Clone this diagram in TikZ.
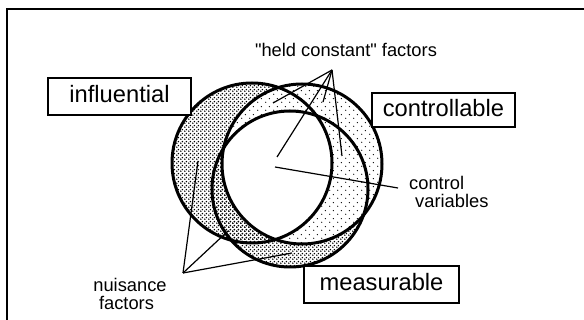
\documentclass[tikz,border=0pt]{standalone}
\usepackage{fontspec}
\setmainfont{Liberation Sans}[Ligatures=TeXOff]
\usetikzlibrary{patterns.meta}

\tikzdeclarepattern{
  name=densedots,
  type=uncolored,
  bottom left={(0pt,0pt)},
  top right={(4pt,4pt)},
  tile size={(4pt,4pt)},
  code={\fill (1pt,1pt) circle (0.95pt); \fill (3pt,3pt) circle (0.95pt);}
}
\tikzdeclarepattern{
  name=sparsedots,
  type=uncolored,
  bottom left={(0pt,0pt)},
  top right={(8pt,8pt)},
  tile size={(8pt,8pt)},
  code={\fill (2pt,2pt) circle (0.75pt); \fill (6pt,6pt) circle (0.75pt);}
}

\tikzset{
  circ/.style={line width=3pt},
  conn/.style={line width=1.2pt},
  frameline/.style={line width=1.4pt},
  lab/.style={inner sep=0pt, font=\fontsize{18.3}{18}\selectfont},
  labelbox/.style={draw, fill=white, line width=1.2pt, inner sep=0pt,
    text height=17pt, text depth=4pt, font=\fontsize{23.7}{24}\selectfont},
}

\begin{document}
\begin{tikzpicture}[x=1pt,y=-1pt]
\useasboundingbox (0,0) rectangle (584,320);

% frame
\draw[frameline] (7,320) -- (7,9) -- (584,9);

% circle centres
\coordinate (cI) at (252,163);
\coordinate (cC) at (302,164);
\coordinate (cM) at (290,189);

% shading
\path[pattern=densedots, pattern color=black] (cI) circle[radius=80pt];
\path[pattern=densedots, pattern color=black] (cM) circle[radius=78pt];
\fill[white] (cC) circle[radius=80pt];
\path[pattern=sparsedots, pattern color=black] (cC) circle[radius=80pt];
\begin{scope}
  \clip (cI) circle[radius=80pt];
  \clip (cM) circle[radius=78pt];
  \fill[white] (cC) circle[radius=80pt];
\end{scope}

% outlines
\draw[circ] (cI) circle[radius=80pt];
\draw[circ] (cC) circle[radius=80pt];
\draw[circ] (cM) circle[radius=78pt];

% boxes
\node[labelbox, minimum width=143pt, minimum height=37pt] (infl) at (119.5,96.5) {influential};
\node[labelbox, minimum width=143pt, minimum height=34pt] (contr) at (443.5,110) {controllable};
\node[labelbox, minimum width=155pt, minimum height=37pt] (meas) at (381.5,284.5) {measurable};

% held constant factors
\node[lab, anchor=base] (held) at (346,57) {"held constant" factors};
\coordinate (hA) at (332,70);
\coordinate (h1) at (273,103);
\coordinate (h2) at (277,157);
\coordinate (h3) at (323,102);
\coordinate (h4) at (342,156);
\draw[conn] (hA) -- (h1);
\draw[conn] (hA) -- (h2);
\draw[conn] (hA) -- (h3);
\draw[conn] (hA) -- (h4);

% control variables
\node[lab, anchor=base west] (ctrlA) at (409,190) {control};
\node[lab, anchor=base west] (ctrlB) at (415,208) {variables};
\coordinate (cvA) at (398,188);
\coordinate (cv1) at (275,167);
\draw[conn] (cvA) -- (cv1);

% nuisance factors
\node[lab, anchor=base] (nuiA) at (130,292) {nuisance};
\node[lab, anchor=base] (nuiB) at (126.5,310) {factors};
\coordinate (nA) at (183,273);
\coordinate (n1) at (198,161);
\coordinate (n2) at (228,231);
\coordinate (n3) at (292,253);
\draw[conn] (nA) -- (n1);
\draw[conn] (nA) -- (n2);
\draw[conn] (nA) -- (n3);
\end{tikzpicture}
\end{document}
